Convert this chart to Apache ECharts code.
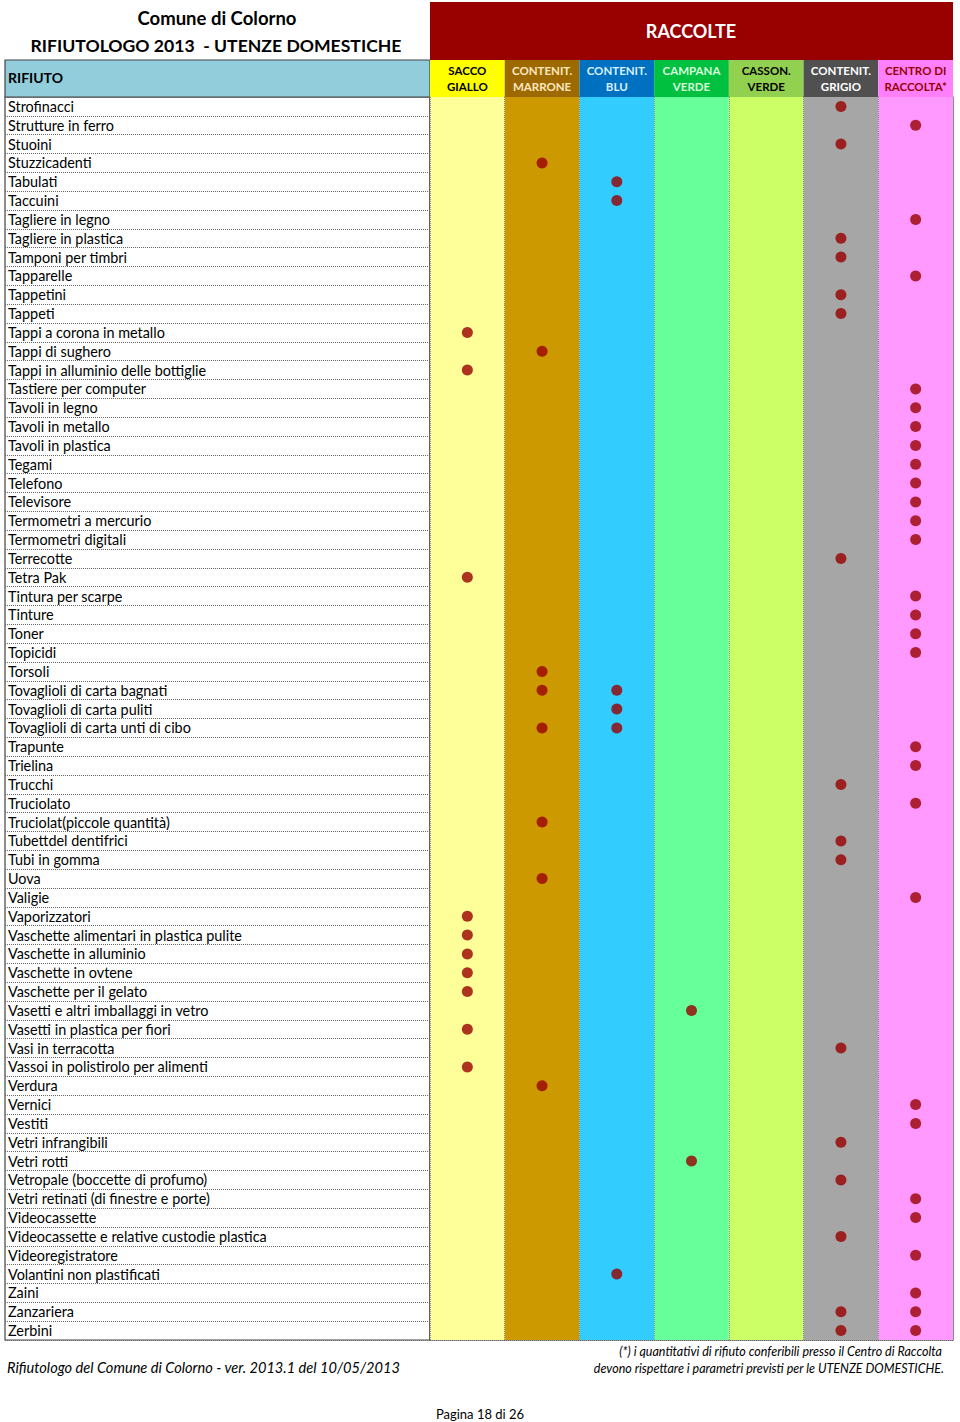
<!DOCTYPE html>
<html>
<head>
<meta charset="utf-8">
<script src="https://cdn.jsdelivr.net/npm/echarts@6/dist/echarts.min.js"></script>
<style>
html,body{margin:0;padding:0;background:#fff;}
#chart{width:960px;height:1422px;}
</style>
</head>
<body>
<div id="chart"></div>
<script>
const rows = [
  'Strofinacci','Strutture in ferro','Stuoini','Stuzzicadenti','Tabulati','Taccuini',
  'Tagliere in legno','Tagliere in plastica','Tamponi per timbri','Tapparelle','Tappetini','Tappeti',
  'Tappi a corona in metallo','Tappi di sughero','Tappi in alluminio delle bottiglie','Tastiere per computer',
  'Tavoli in legno','Tavoli in metallo','Tavoli in plastica','Tegami','Telefono','Televisore',
  'Termometri a mercurio','Termometri digitali','Terrecotte','Tetra Pak','Tintura per scarpe','Tinture',
  'Toner','Topicidi','Torsoli','Tovaglioli di carta bagnati','Tovaglioli di carta puliti',
  'Tovaglioli di carta unti di cibo','Trapunte','Trielina','Trucchi','Truciolato',
  'Truciolat(piccole quantità)','Tubettdel dentifrici','Tubi in gomma','Uova','Valigie','Vaporizzatori',
  'Vaschette alimentari in plastica pulite','Vaschette in alluminio','Vaschette in ovtene',
  'Vaschette per il gelato','Vasetti e altri imballaggi in vetro','Vasetti in plastica per fiori',
  'Vasi in terracotta','Vassoi in polistirolo per alimenti','Verdura','Vernici','Vestiti',
  'Vetri infrangibili','Vetri rotti','Vetropale (boccette di profumo)','Vetri retinati (di finestre e porte)',
  'Videocassette','Videocassette e relative custodie plastica','Videoregistratore',
  'Volantini non plastificati','Zaini','Zanzariera','Zerbini'
];
const columns = ['SACCO\nGIALLO','CONTENIT.\nMARRONE','CONTENIT.\nBLU','CAMPANA\nVERDE','CASSON.\nVERDE','CONTENIT.\nGRIGIO','CENTRO DI\nRACCOLTA*'];
// column indices marked with a dot for each row (same order as rows)
const dotColumns = [
  [5],[6],[5],[1],[2],[2],
  [6],[5],[5],[6],[5],[5],
  [0],[1],[0],[6],
  [6],[6],[6],[6],[6],[6],
  [6],[6],[5],[0],[6],[6],
  [6],[6],[1],[1,2],[2],
  [1,2],[6],[6],[5],[6],
  [1],[5],[5],[1],[6],[0],
  [0],[0],[0],
  [0],[3],[0],
  [5],[0],[1],[6],[6],
  [5],[3],[5],[6],
  [6],[5],[6],
  [2],[6],[5,6],[5,6]
];
const headerColors = ['#FFFF00','#9C6A00','#0070C0','#00C040','#92D050','#505050','#FF80FF'];
const headerTextColors = ['#000000','#FFE8C0','#D8F0FF','#D8FFD8','#000000','#FFFFFF','#990000'];
const bodyColors = ['#FFFF99','#CC9900','#33CCFF','#66FF99','#CCFF66','#A6A6A6','#FF99FF'];

const dots = [];
dotColumns.forEach((cols, r) => cols.forEach(c => dots.push([c, r])));

const FONT = 'Lato, "Open Sans", sans-serif';
const chart = echarts.init(document.getElementById('chart'), null, {renderer: 'svg'});

const hiddenAxis = (type, gi, extra) => Object.assign({
  type, gridIndex: gi, show: false
}, extra || {});

chart.setOption({
  animation: false,
  backgroundColor: '#ffffff',
  textStyle: {fontFamily: FONT},
  grid: [
    {left: 5, top: 97, width: 425, height: 1243, show: true, backgroundColor: '#ffffff', borderColor: '#444', borderWidth: 1.2},
    {left: 430, top: 97, width: 523, height: 1243, show: true, backgroundColor: 'transparent', borderColor: '#444', borderWidth: 1.2},
    {left: 430, top: 60, width: 523, height: 37, show: false},
    {left: 5, top: 60, width: 425, height: 37, show: true, backgroundColor: '#92CDDC', borderColor: '#444', borderWidth: 1.2},
    {left: 430, top: 2, width: 523, height: 58, show: true, backgroundColor: '#990000', borderColor: '#990000', borderWidth: 0}
  ],
  xAxis: [
    hiddenAxis('value', 0, {min: 0, max: 1}),
    {
      type: 'category', gridIndex: 1, data: columns, boundaryGap: true,
      axisLine: {show: false}, axisTick: {show: false}, axisLabel: {show: false},
      splitArea: {show: true, interval: 0, areaStyle: {color: bodyColors, opacity: 1}},
      splitLine: {show: true, interval: 0, lineStyle: {color: '#8a8a8a', type: [1, 1], width: 1}}
    },
    {
      type: 'category', gridIndex: 2, data: columns, boundaryGap: true, position: 'bottom',
      axisLine: {show: false}, axisTick: {show: false},
      axisLabel: {
        show: true, inside: true, interval: 0, margin: 3,
        fontFamily: FONT, fontSize: 11.5, fontWeight: 'bold', lineHeight: 16,
        color: (v, i) => headerTextColors[i]
      },
      splitArea: {show: true, interval: 0, areaStyle: {color: headerColors, opacity: 1}},
      splitLine: {show: false}
    },
    hiddenAxis('value', 3, {min: 0, max: 1}),
    hiddenAxis('value', 4, {min: 0, max: 1})
  ],
  yAxis: [
    {
      type: 'category', gridIndex: 0, data: rows, inverse: true, boundaryGap: true,
      axisLine: {show: false}, axisTick: {show: false},
      axisLabel: {show: true, inside: true, interval: 0, margin: 3, color: '#000', fontFamily: FONT, fontSize: 14.4},
      splitLine: {show: true, interval: 0, lineStyle: {color: '#666', type: [1, 1], width: 1}}
    },
    {
      type: 'category', gridIndex: 1, data: rows, inverse: true, boundaryGap: true,
      axisLine: {show: false}, axisTick: {show: false}, axisLabel: {show: false},
      splitLine: {show: true, interval: 0, lineStyle: {color: '#666', type: [1, 1], width: 1}}
    },
    hiddenAxis('value', 2, {min: 0, max: 1}),
    hiddenAxis('value', 3, {min: 0, max: 1}),
    hiddenAxis('value', 4, {min: 0, max: 1})
  ],
  series: [{
    type: 'scatter', xAxisIndex: 1, yAxisIndex: 1,
    data: dots, symbol: 'circle', symbolSize: 11,
    itemStyle: {color: '#990000'}, z: 5
  }],
  graphic: [
    {type: 'text', left: 8, top: 70, style: {text: 'RIFIUTO', font: 'bold 14px ' + FONT, fill: '#000'}},
    {type: 'text', x: 217, y: 18, style: {text: 'Comune di Colorno', font: 'bold 18.5px ' + FONT, fill: '#000', textAlign: 'center', textVerticalAlign: 'middle'}},
    {type: 'text', x: 216, y: 45, style: {text: 'RIFIUTOLOGO 2013  - UTENZE DOMESTICHE', font: 'bold 17.6px ' + FONT, fill: '#000', textAlign: 'center', textVerticalAlign: 'middle'}},
    {type: 'text', x: 691, y: 31, z: 10, style: {text: 'RACCOLTE', font: 'bold 18px ' + FONT, fill: '#fff', textAlign: 'center', textVerticalAlign: 'middle'}},
    {type: 'text', x: 7, y: 1367, style: {text: 'Rifiutologo del Comune di Colorno - ver. 2013.1 del 10/05/2013', font: 'italic 14.6px ' + FONT, fill: '#000', textVerticalAlign: 'middle'}},
    {type: 'text', x: 942, y: 1351, style: {text: '(*) i quantitativi di rifiuto conferibili presso il Centro di Raccolta', font: 'italic 12.5px ' + FONT, fill: '#000', textAlign: 'right', textVerticalAlign: 'middle'}},
    {type: 'text', x: 944, y: 1368, style: {text: 'devono rispettare i parametri previsti per le UTENZE DOMESTICHE.', font: 'italic 12.5px ' + FONT, fill: '#000', textAlign: 'right', textVerticalAlign: 'middle'}},
    {type: 'text', x: 480, y: 1414, style: {text: 'Pagina 18 di 26', font: '13px ' + FONT, fill: '#000', textAlign: 'center', textVerticalAlign: 'middle'}}
  ]
});
</script>
</body>
</html>
